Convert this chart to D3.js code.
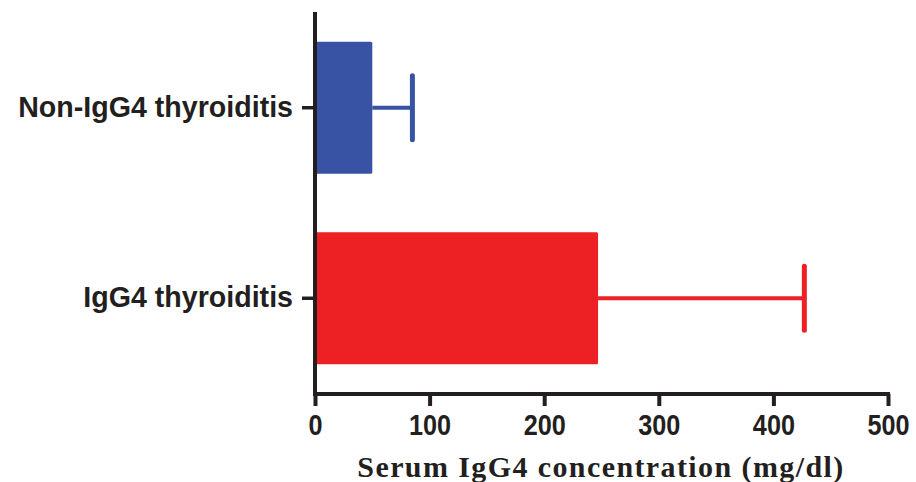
<!DOCTYPE html>
<html>
<head>
  <meta charset="utf-8" />
  <title>IgG4</title>
  <script src="https://cdn.jsdelivr.net/npm/d3@7"></script>
  <style>
    body { margin: 0; background: #fff; }
  </style>
</head>
<body>
<div id="vis"></div>
<script>
var groups = ["Non-IgG4 thyroiditis", "IgG4 thyroiditis"];
var means = [50, 247];
var upper = [85, 427];
var colors = ["#3953A4", "#ED2024"];
var xTicks = [0, 100, 200, 300, 400, 500];
var xTitle = "Serum IgG4 concentration (mg/dl)";

var w = 916, h = 482;
var ink = "#231F20";

var svg = d3.select("#vis").append("svg")
  .attr("width", w)
  .attr("height", h);

var x = d3.scaleLinear().domain([0, 500]).range([315, 888]);
var y = d3.scaleBand().domain(groups).range([12, 394])
  .paddingInner(0.307).paddingOuter(0.156);

// bars
svg.selectAll("rect.bar")
  .data(groups)
  .enter().append("rect")
  .attr("class", "bar")
  .attr("x", x(0))
  .attr("y", function(d) { return y(d); })
  .attr("width", function(d, i) { return x(means[i]) - x(0); })
  .attr("height", y.bandwidth())
  .attr("rx", 1.5)
  .attr("fill", function(d, i) { return colors[i]; });

// error bars
var err = svg.selectAll("g.err")
  .data(groups)
  .enter().append("g")
  .attr("class", "err")
  .attr("stroke", function(d, i) { return colors[i]; });

err.append("line")
  .attr("x1", function(d, i) { return x(means[i]); })
  .attr("x2", function(d, i) { return x(upper[i]); })
  .attr("y1", function(d) { return y(d) + y.bandwidth() / 2; })
  .attr("y2", function(d) { return y(d) + y.bandwidth() / 2; })
  .attr("stroke-width", 4);

err.append("line")
  .attr("x1", function(d, i) { return x(upper[i]); })
  .attr("x2", function(d, i) { return x(upper[i]); })
  .attr("y1", function(d) { return y(d) + y.bandwidth() / 2 - 32; })
  .attr("y2", function(d) { return y(d) + y.bandwidth() / 2 + 32; })
  .attr("stroke-width", 5)
  .attr("stroke-linecap", "round");

// x axis
var gx = svg.append("g")
  .attr("transform", "translate(0,394)")
  .call(d3.axisBottom(x).tickValues(xTicks).tickSize(12).tickPadding(8).tickSizeOuter(0));

gx.select(".domain").attr("stroke", ink).attr("stroke-width", 4).attr("d", "M" + (x(0) - 2) + ",0H" + (x(500) + 2));
gx.selectAll(".tick line").attr("stroke", ink).attr("stroke-width", 4);
gx.selectAll(".tick text")
  .attr("fill", ink)
  .attr("font-family", "'Liberation Sans', Arial, sans-serif")
  .attr("font-weight", "bold")
  .attr("font-size", "29px")
  .attr("transform", "scale(0.87,1)");

// y axis
var gy = svg.append("g")
  .attr("transform", "translate(" + x(0) + ",0)")
  .call(d3.axisLeft(y).tickSize(13).tickPadding(9).tickSizeOuter(0));

gy.select(".domain").attr("stroke", ink).attr("stroke-width", 4).attr("d", "M0,12V396");
gy.selectAll(".tick line").attr("stroke", ink).attr("stroke-width", 3.5);
gy.selectAll(".tick text")
  .attr("fill", ink)
  .attr("font-family", "'Liberation Sans', Arial, sans-serif")
  .attr("font-weight", "bold")
  .attr("font-size", "28.6px");

// x title
svg.append("text")
  .attr("x", 601)
  .attr("y", 477)
  .attr("text-anchor", "middle")
  .attr("fill", ink)
  .attr("font-family", "'Liberation Serif', 'Times New Roman', serif")
  .attr("font-weight", "bold")
  .attr("font-size", "30px")
  .attr("letter-spacing", "1.4px")
  .text(xTitle);
</script>
</body>
</html>
